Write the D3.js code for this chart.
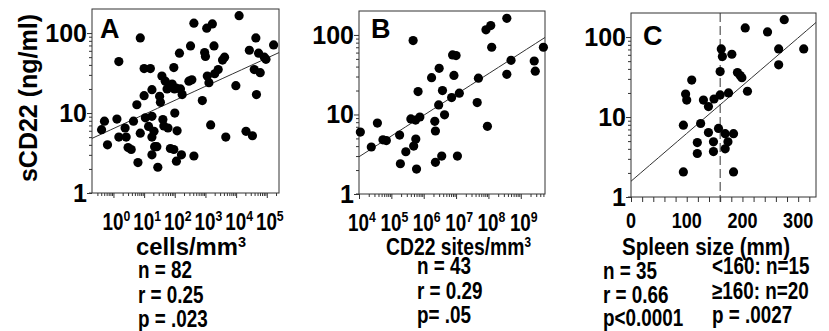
<!DOCTYPE html>
<html>
<head>
<meta charset="utf-8">
<script src="https://cdn.jsdelivr.net/npm/d3@7"></script>
<style>
  body { margin: 0; background: #fff; }
  svg { display: block; font-family: "Liberation Sans", Arial, sans-serif; font-weight: bold; }
</style>
</head>
<body>
<script>
// panel A: cells/mm3 vs sCD22 (ng/ml)
const cellsA = [
  [0.41, 6.2], [0.51, 7.9], [0.64, 4.0], [1.3, 8.4], [1.5, 44], [1.5, 5.0], [2.4, 6.5], [2.6, 5.0], [3.0, 3.7], [3.8, 3.5],
  [5.8, 12.7], [6.3, 2.4], [7.5, 87], [7.5, 5.6], [10, 16.5], [10, 36], [16, 36], [11, 8.7], [18, 19.6], [18, 9.1],
  [18, 5.0], [18, 3.0], [22, 3.8], [26, 3.8], [28, 2.1], [32, 16.2], [34, 13.6], [38, 29], [41, 8.3], [44, 6.9],
  [49, 25], [56, 20], [60, 6.5], [67, 21], [72, 3.6], [93, 3.5], [98, 20], [93, 37], [100, 10], [113, 2.5],
  [111, 20.5], [119, 6.0], [142, 56], [153, 20], [165, 3.0], [174, 17], [288, 25], [326, 69], [360, 26], [420, 2.9],
  [420, 133], [790, 14.3], [940, 57], [1000, 51], [1100, 115], [1150, 29], [1300, 24], [1480, 7.1], [1680, 130], [1900, 69],
  [2000, 31], [2600, 35], [3600, 46], [4200, 50], [4600, 5.0], [9800, 22], [12500, 165], [21000, 5.9], [27000, 61], [34000, 5.2],
  [39000, 35], [44000, 87], [46000, 17], [54000, 56], [61000, 32], [83000, 50], [94000, 47], [167000, 71], [21, 5.9], [82, 23],
  [14, 6.8], [4.5, 7.9]
];
// panel B: CD22 sites/mm3
const sitesB = [
  [1.1e4, 6.0], [2.4e4, 3.9], [3.7e4, 7.8], [5.5e4, 4.8], [7.0e4, 4.7], [1.8e5, 5.5], [1.9e5, 2.4], [2.8e5, 3.4], [4.0e5, 8.8], [4.7e5, 85],
  [4.9e5, 4.0], [5.6e5, 8.5], [5.7e5, 4.9], [6.0e5, 2.06], [6.7e5, 19.4], [7.6e5, 9.3], [1.75e6, 29], [2.2e6, 8.2], [2.3e6, 6.2], [2.3e6, 2.5],
  [2.9e6, 13.2], [3.0e6, 38], [3.6e6, 3.0], [3.8e6, 20], [4.4e6, 9.9], [7.3e6, 16.3], [7.8e6, 56], [8.6e6, 31], [1.0e7, 55], [1.1e7, 3.0],
  [1.26e7, 18.5], [4.5e7, 14.1], [4.9e7, 28.6], [8.4e7, 116], [9.3e7, 7.1], [1.18e8, 131], [1.26e8, 70], [3.7e8, 162], [3.7e8, 32], [5.0e8, 48],
  [2.6e9, 47], [2.8e9, 35], [5.0e9, 70]
];
// panel C: spleen size (mm)
const spleenC = [
  [94, 2.06], [94, 7.9], [98, 19.4], [100, 16.3], [109, 29], [119, 4.8], [119, 3.5], [125, 8.3], [130, 16.3], [139, 13.5],
  [139, 6.4], [148, 4.9], [148, 3.7], [149, 16.8], [157, 7.2], [160, 18.9], [160, 37], [162, 71], [164, 57], [169, 6.2],
  [169, 4.0], [174, 4.9], [175, 20], [181, 61], [184, 6.2], [184, 2.06], [191, 36], [196, 33], [199, 31], [205, 130],
  [209, 21], [245, 116], [265, 45], [265, 71], [275, 165], [310, 71]
];

// fitted lines: log10(y) = a + b * (log10(x) or x)
const fitA = { a: 0.806, b: 0.176 };
const fitB = { a: -0.576, b: 0.261 };
const fitC = { a: 0.197, b: 0.00598 };

const yTicks = [1, 10, 100];
const expA = [0, 1, 2, 3, 4, 5];
const expB = [4, 5, 6, 7, 8, 9];
const ticksC = [0, 100, 200, 300];
const cutC = 160;

const statsA = ['n = 82', 'r = 0.25', 'p = .023'];
const statsB = ['n = 43', 'r = 0.29', 'p= .05'];
const statsC = ['n = 35', 'r = 0.66', 'p<0.0001'];
const groupsC = ['<160: n=15', '\u2265160: n=20', 'p = .0027'];

const W = 829, H = 331;
const svg = d3.select('body').append('svg').attr('width', W).attr('height', H);
svg.append('rect').attr('width', W).attr('height', H).attr('fill', '#fff');

const NARROW = 0.82;
function ntext (x, y, anchor, size) {
  return svg.append('text')
    .attr('transform', `translate(${x},${y}) scale(${NARROW},1)`)
    .attr('text-anchor', anchor)
    .style('font-size', size + 'px');
}

function minorLog (lo, hi) {
  const out = [];
  for (let e = Math.floor(Math.log10(lo)); e <= Math.ceil(Math.log10(hi)); e++) {
    for (let m = 2; m <= 9; m++) {
      const v = m * Math.pow(10, e);
      if (v > lo && v < hi) out.push(v);
    }
  }
  return out;
}

function drawPanel (p) {
  const g = svg.append('g');
  const y = d3.scaleLog().domain([1, 200]).range([p.bottom, p.top]);
  const x = p.log
    ? d3.scaleLog().domain(p.xdom).range([p.left, p.right])
    : d3.scaleLinear().domain(p.xdom).range([p.left, p.right]);

  // frame
  g.append('rect')
    .attr('x', p.left).attr('y', p.top)
    .attr('width', p.right - p.left).attr('height', p.bottom - p.top)
    .attr('fill', 'none').attr('stroke', '#333').attr('stroke-width', 1);
  g.append('line')
    .attr('x1', p.left - 3).attr('x2', p.left)
    .attr('y1', p.bottom).attr('y2', p.bottom)
    .attr('stroke', '#333');

  // y axis ticks
  const yMajor = d3.axisLeft(y).tickValues(yTicks).tickSize(5).tickSizeOuter(0).tickFormat('');
  const yMinor = d3.axisLeft(y).tickValues(minorLog(1, 200).filter(v => v < 200)).tickSize(3).tickSizeOuter(0).tickFormat('');
  [yMajor, yMinor].forEach(ax => {
    const a = g.append('g').attr('transform', `translate(${p.left},0)`).call(ax);
    a.select('.domain').remove();
    a.selectAll('line').attr('stroke', '#333');
  });
  yTicks.forEach(v => {
    g.append('text')
      .attr('x', p.left - 5).attr('y', y(v) + 9)
      .attr('text-anchor', 'end')
      .style('font-size', '25px')
      .text(v);
  });

  // x axis ticks
  if (p.log) {
    const xMajor = d3.axisBottom(x).tickValues(p.exps.map(e => Math.pow(10, e))).tickSize(5).tickSizeOuter(0).tickFormat('');
    const xMinor = d3.axisBottom(x).tickValues(minorLog(p.xdom[0], p.xdom[1])).tickSize(3).tickSizeOuter(0).tickFormat('');
    [xMajor, xMinor].forEach(ax => {
      const a = g.append('g').attr('transform', `translate(0,${p.bottom})`).call(ax);
      a.select('.domain').remove();
      a.selectAll('line').attr('stroke', '#333');
    });
    p.exps.forEach(e => {
      const t = ntext(x(Math.pow(10, e)) + 3, p.bottom + 37, 'middle', 23);
      t.append('tspan').text('10');
      t.append('tspan').attr('dy', -9).style('font-size', '15px').text(e);
    });
  } else {
    const xAx = d3.axisBottom(x).tickValues(d3.range(0, 321, 20)).tickSize(5).tickSizeOuter(0).tickFormat('');
    const a = g.append('g').attr('transform', `translate(0,${p.bottom})`).call(xAx);
    a.select('.domain').remove();
    a.selectAll('line').attr('stroke', '#333');
    ticksC.forEach(v => {
      ntext(x(v), p.bottom + 31, 'middle', 22).text(v);
    });
    g.append('line')
      .attr('x1', x(cutC)).attr('x2', x(cutC))
      .attr('y1', p.top).attr('y2', p.bottom + 5)
      .attr('stroke', '#333').attr('stroke-dasharray', '9,4');
  }

  // regression line
  const xs = p.log
    ? d3.range(0, 21).map(i => p.xdom[0] * Math.pow(p.xdom[1] / p.xdom[0], i / 20))
    : d3.range(0, 21).map(i => p.xdom[0] + (p.xdom[1] - p.xdom[0]) * i / 20);
  const fy = v => Math.pow(10, p.fit.a + p.fit.b * (p.log ? Math.log10(v) : v));
  g.append('path')
    .datum(xs)
    .attr('d', d3.line().x(d => x(d)).y(d => y(fy(d))))
    .attr('fill', 'none').attr('stroke', '#333').attr('stroke-width', 1);

  // points
  g.selectAll('circle.pt')
    .data(p.data)
    .join('circle')
    .attr('class', 'pt')
    .attr('cx', d => x(d[0]))
    .attr('cy', d => y(d[1]))
    .attr('r', 4.6)
    .attr('fill', '#000');

  // panel letter
  g.append('text')
    .attr('x', p.left + p.letterDx).attr('y', p.top + p.letterDy)
    .style('font-size', '27px')
    .text(p.letter);
}

drawPanel({ letter: 'A', data: cellsA, fit: fitA, log: true, exps: expA, xdom: [0.2, 2.5e5], left: 92, right: 279, top: 9, bottom: 193, letterDx: 8, letterDy: 29 });
drawPanel({ letter: 'B', data: sitesB, fit: fitB, log: true, exps: expB, xdom: [1e4, 5.6e9], left: 359, right: 545, top: 11, bottom: 194, letterDx: 12, letterDy: 27 });
drawPanel({ letter: 'C', data: spleenC, fit: fitC, log: false, xdom: [0, 332], left: 631, right: 816, top: 13, bottom: 197, letterDx: 12, letterDy: 32 });

// y axis title
svg.append('text')
  .attr('transform', 'translate(37,98) rotate(-90)')
  .attr('text-anchor', 'middle')
  .style('font-size', '25px')
  .text('sCD22 (ng/ml)');

// x axis titles, widened a little to match the figure
function axisTitle (x0, len, label, cube) {
  const t = ntext(x0, 255, 'start', 23)
    .attr('textLength', len / NARROW)
    .attr('lengthAdjust', 'spacingAndGlyphs');
  t.append('tspan').text(label);
  if (cube) t.append('tspan').attr('dy', -8).style('font-size', '14px').text('3');
}
axisTitle(136, 110, 'cells/mm', true);
axisTitle(386, 145, 'CD22 sites/mm', true);
axisTitle(622, 168, 'Spleen size (mm)', false);

// stats
statsA.forEach((s, i) => ntext(138, 278 + i * 24.5, 'start', 23).text(s));
statsB.forEach((s, i) => ntext(417, 274 + i * 24.5, 'start', 23).text(s));
statsC.forEach((s, i) => ntext(603, 279 + i * 23.5, 'start', 23).text(s));
groupsC.forEach((s, i) => ntext(712, 274 + i * 24.5, 'start', 23).text(s));
</script>
</body>
</html>
